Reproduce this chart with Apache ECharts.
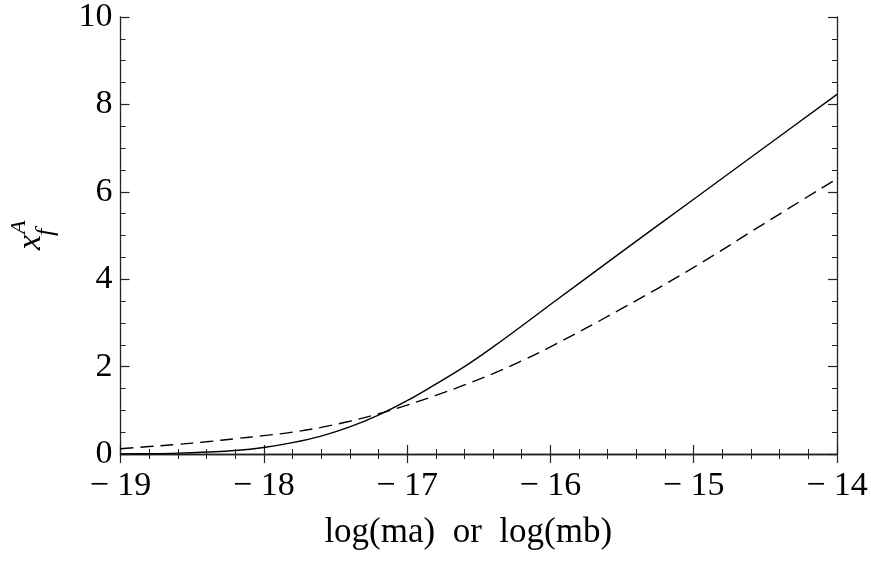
<!DOCTYPE html>
<html>
<head>
<meta charset="utf-8">
<script src="https://cdn.jsdelivr.net/npm/echarts@6/dist/echarts.min.js"></script>
<style>html,body{margin:0;padding:0;background:#fff}#c{width:871px;height:561px}</style>
</head>
<body>
<div id="c"></div>
<script>
var xValues = [-19, -18.8, -18.6, -18.4, -18.2, -18, -17.8, -17.6, -17.4, -17.2, -17, -16.8, -16.6, -16.4, -16.2, -16, -15.5, -15, -14.5, -14];
var solidValues = [0.0, 0.007, 0.02, 0.045, 0.08, 0.15, 0.26, 0.41, 0.62, 0.89, 1.22, 1.60, 2.00, 2.45, 2.93, 3.42, 4.63, 5.83, 7.03, 8.23];
var dashedValues = [0.12, 0.17, 0.22, 0.28, 0.35, 0.42, 0.50, 0.61, 0.75, 0.92, 1.12, 1.34, 1.58, 1.84, 2.13, 2.45, 3.33, 4.27, 5.29, 6.30];
var xTicks = [-19, -18, -17, -16, -15, -14];
var yTicks = [0, 2, 4, 6, 8, 10];
var xName = 'log(ma)  or  log(mb)';

var FONT = 'Liberation Serif';
function pairs(ys) { return xValues.map(function (x, i) { return [x, ys[i]]; }); }
function fmtX(v) { return v < 0 ? '\u2212 ' + Math.abs(v) : String(v); }

var axisLine = { show: true, lineStyle: { color: '#222', width: 1.3 } };
var baseX = {
  type: 'value', min: xTicks[0], max: xTicks[xTicks.length - 1], interval: 1,
  axisLine: axisLine,
  axisTick: { show: true, inside: true, length: 9, lineStyle: { color: '#222', width: 1.2 } },
  minorTick: { show: true, splitNumber: 5, length: 5, lineStyle: { color: '#222', width: 1 } },
  splitLine: { show: false }
};
var baseY = {
  type: 'value', min: yTicks[0], max: yTicks[yTicks.length - 1], interval: 2,
  axisLine: axisLine,
  axisTick: { show: true, inside: true, length: 9, lineStyle: { color: '#222', width: 1.2 } },
  minorTick: { show: true, splitNumber: 4, length: 5, lineStyle: { color: '#222', width: 1 } },
  splitLine: { show: false }
};

var chart = echarts.init(document.getElementById('c'), null, { renderer: 'canvas' });
chart.setOption({
  animation: false,
  backgroundColor: '#fff',
  grid: { left: 120.5, right: 34, top: 12.5, bottom: 107, containLabel: false },
  xAxis: [
    Object.assign({}, baseX, {
      position: 'bottom',
      axisLabel: { show: true, formatter: fmtX, fontFamily: FONT, fontSize: 34, color: '#000', margin: 15 },
      name: xName, nameLocation: 'middle', nameGap: 61,
      nameTextStyle: { fontFamily: FONT, fontSize: 35, color: '#000', padding: [0, 21, 0, 0] }
    }),
    Object.assign({}, baseX, { position: 'top', axisLabel: { show: false } })
  ],
  yAxis: [
    Object.assign({}, baseY, {
      position: 'left',
      axisLabel: { show: true, fontFamily: FONT, fontSize: 34, color: '#000', margin: 8 }
    }),
    Object.assign({}, baseY, { position: 'right', axisLabel: { show: false } })
  ],
  graphic: [{
    type: 'group', x: 43, y: 251, rotation: Math.PI / 2,
    children: [
      { type: 'text', x: 1, y: -12, style: { text: 'x', font: 'italic 34px "Liberation Serif"', fill: '#000', verticalAlign: 'middle' } },
      { type: 'text', x: 15, y: 3, style: { text: 'f', font: 'italic 26px "Liberation Serif"', fill: '#000', verticalAlign: 'middle' } },
      { type: 'text', x: 17, y: -24, style: { text: 'A', font: 'italic 22px "Liberation Serif"', fill: '#000', verticalAlign: 'middle' } }
    ]
  }],
  series: [
    {
      type: 'line', data: pairs(solidValues), smooth: 0.4, showSymbol: false,
      lineStyle: { color: '#000', width: 1.4, type: 'solid' }, z: 3
    },
    {
      type: 'line', data: pairs(dashedValues), smooth: 0.4, showSymbol: false,
      lineStyle: { color: '#000', width: 1.4, type: [13, 7] }, z: 3
    }
  ]
});
</script>
</body>
</html>
